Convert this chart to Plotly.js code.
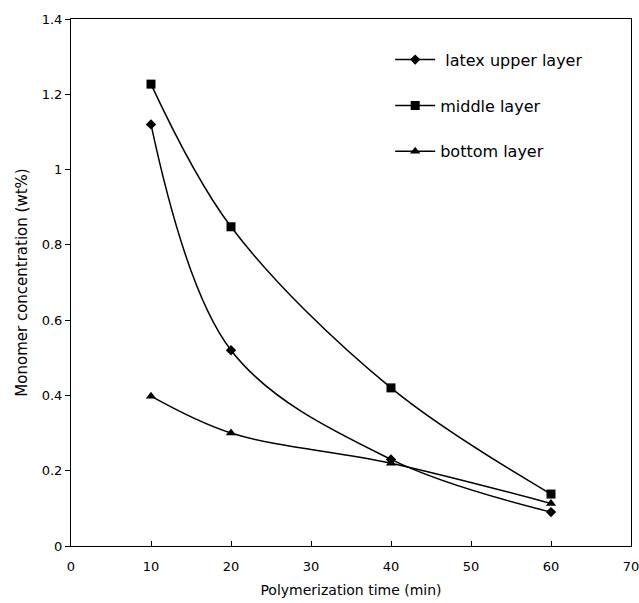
<!DOCTYPE html>
<html><head><meta charset="utf-8">
<script src="https://cdn.plot.ly/plotly-3.0.1.min.js"></script>
<style>html,body{margin:0;padding:0;background:#fff}</style>
</head><body>
<div id="chart" style="width:639px;height:603px"></div>
<script>
const time = [10, 20, 40, 60];
const upperLayer = [1.12, 0.52, 0.23, 0.09];
const middleLayer = [1.227, 0.848, 0.42, 0.138];
const bottomLayer = [0.398, 0.30, 0.22, 0.113];
const seriesNames = ['latex upper layer', 'middle layer', 'bottom layer'];
const xTicks = [0, 10, 20, 30, 40, 50, 60, 70];
const yTicks = [0, 0.2, 0.4, 0.6, 0.8, 1, 1.2, 1.4];

const font = 'DejaVu Sans, Liberation Sans, sans-serif';
function tr(y, name, sym, size, grp) {
  return {x: time, y: y, name: name, type: 'scatter', mode: 'lines+markers',
    legendgroup: grp,
    line: {color: '#000', width: 1.5, shape: 'spline', smoothing: 1},
    marker: {symbol: sym, size: size, color: '#000'}};
}
const data = [
  tr(upperLayer, ' ' + seriesNames[0], 'diamond', 8, 'a'),
  tr(middleLayer, seriesNames[1], 'square', 9, 'b'),
  tr(bottomLayer, seriesNames[2], 'triangle-up', 9, 'c')
];
const layout = {
  width: 639, height: 603,
  margin: {l: 71, r: 8, t: 19, b: 57},
  paper_bgcolor: '#fff', plot_bgcolor: '#fff',
  font: {family: font, color: '#000', size: 13},
  showlegend: true,
  legend: {x: 0.57, y: 0.955, xanchor: 'left', yanchor: 'top',
    bgcolor: 'rgba(0,0,0,0)', font: {size: 16, family: font},
    tracegroupgap: 22, itemwidth: 40},
  xaxis: {range: [0, 70], tickvals: xTicks, ticktext: xTicks.map(String),
    ticks: 'inside', ticklen: 5, tickcolor: '#000', ticklabelstandoff: 8,
    ticklabeloverflow: 'allow',
    showline: true, mirror: true, linecolor: '#000', linewidth: 1,
    showgrid: false, zeroline: false,
    title: {text: 'Polymerization time (min)', font: {size: 14}, standoff: 12}},
  yaxis: {range: [0, 1.4], tickvals: yTicks, ticktext: yTicks.map(String),
    ticks: 'outside', ticklen: 5, tickcolor: '#000',
    showline: true, mirror: true, linecolor: '#000', linewidth: 1,
    showgrid: false, zeroline: false,
    title: {text: 'Monomer concentration (wt%)', font: {size: 15}, standoff: 10}}
};
Plotly.newPlot('chart', data, layout, {displayModeBar: false, staticPlot: true});
</script>
</body></html>
